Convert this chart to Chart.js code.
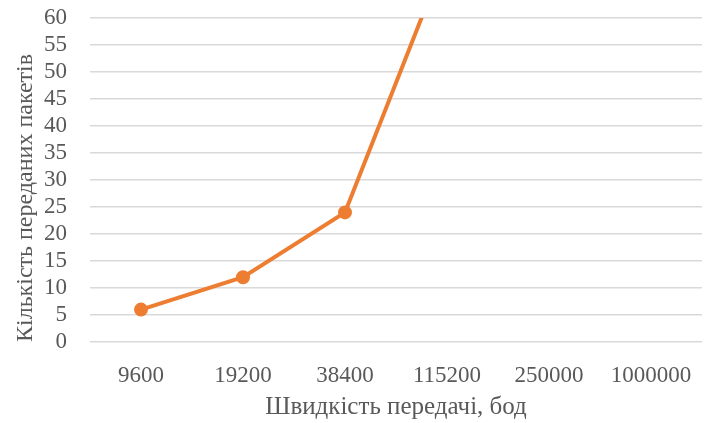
<!DOCTYPE html>
<html>
<head>
<meta charset="utf-8">
<script src="https://cdn.jsdelivr.net/npm/chart.js@4"></script>
<style>
  body { margin: 0; background: #fff; overflow: hidden; }
  /* plot runs a few px past the right edge in the original */
  #wrap { width: 711px; height: 423px; }
</style>
</head>
<body>
<div id="wrap"><canvas id="c"></canvas></div>
<script>
// baud rates on the x axis, packet counts on y
const speeds = ['9600', '19200', '38400', '115200', '250000', '1000000'];
const packets = [6, 12, 24, 72, null, null];
const yTicks = { min: 0, max: 60, step: 5 };

const textColor = '#595959';
const serif = "'Liberation Serif', 'Times New Roman', serif";

new Chart(document.getElementById('c'), {
    type: 'line',
    data: {
        labels: speeds,
        datasets: [{
            data: packets,
            borderColor: '#ED7D31',
            backgroundColor: '#ED7D31',
            borderWidth: 4,
            pointRadius: 5,
            pointHoverRadius: 5,
            tension: 0,
        }]
    },
    options: {
        responsive: true,
        maintainAspectRatio: false,
        animation: false,
        layout: { padding: { top: 18, right: 0, bottom: 0, left: 0 } },
        scales: {
            x: {
                offset: true,
                afterFit: (s) => { s.height = 81; },
                grid: { display: false },
                border: { display: false },
                ticks: { color: textColor, font: { family: serif, size: 23 }, padding: 12, maxRotation: 0, autoSkip: false },
                title: {
                    display: true,
                    text: 'Швидкість передачі, бод',
                    color: textColor,
                    font: { family: serif, size: 25 },
                    padding: { top: 4, bottom: 1 }
                }
            },
            y: {
                min: yTicks.min,
                max: yTicks.max,
                afterFit: (s) => { s.width = 90; },
                // invisible tick marks give the gap between labels and grid
                grid: { color: '#d9d9d9', lineWidth: 1.5, drawTicks: true, tickLength: 23, tickColor: 'rgba(0,0,0,0)' },
                border: { display: false },
                ticks: { stepSize: yTicks.step, autoSkip: false, color: textColor, font: { family: serif, size: 23 }, padding: 0 },
                title: {
                    display: true,
                    text: 'Кількість переданих пакетів',
                    align: 'start',
                    color: textColor,
                    font: { family: serif, size: 24 },
                    padding: { top: 11, bottom: 0 }
                }
            }
        },
        plugins: {
            legend: { display: false },
            tooltip: { enabled: false }
        }
    }
});
</script>
</body>
</html>
